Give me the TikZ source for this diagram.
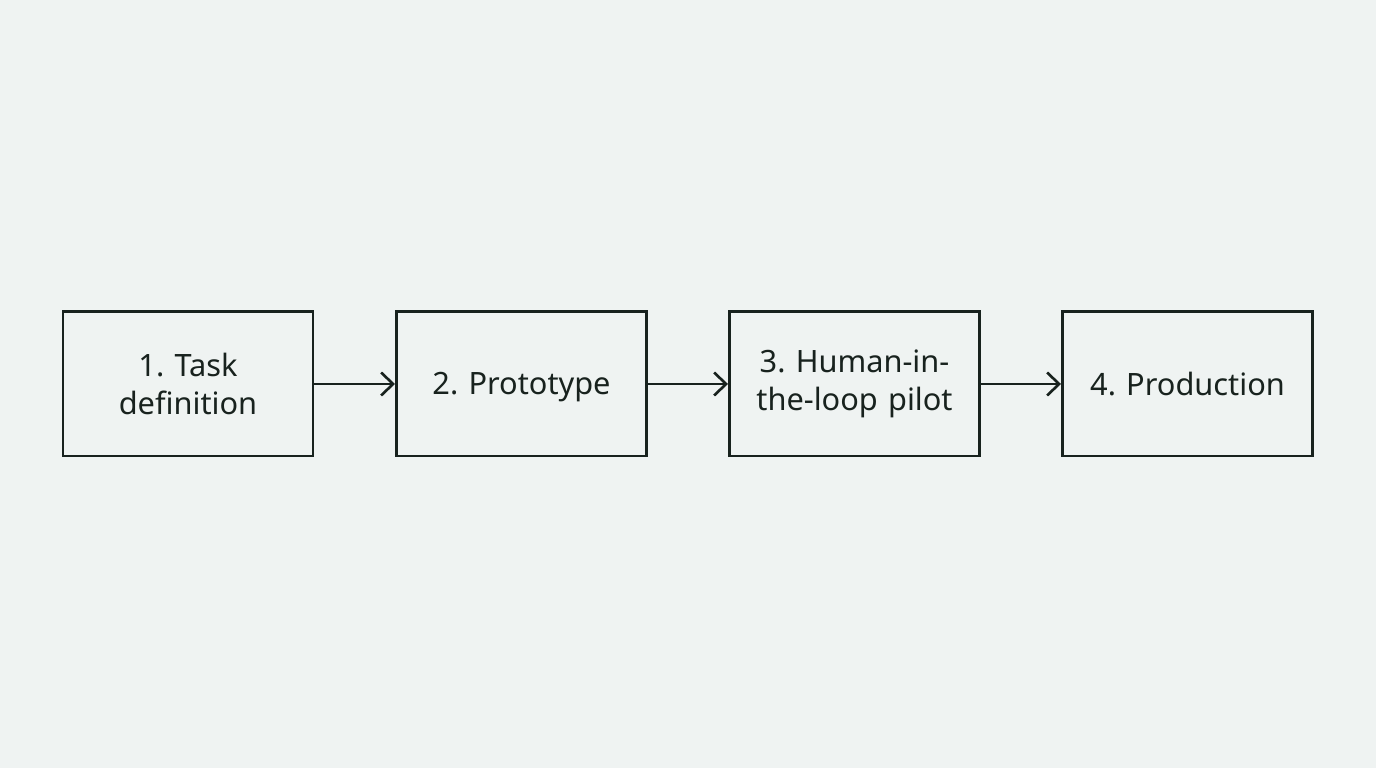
\documentclass[tikz,border=0pt]{standalone}
\usepackage{fontspec}
\setmainfont{Noto Sans}
\usetikzlibrary{arrows.meta}
\definecolor{bgcol}{HTML}{EFF3F2}
\definecolor{inkcol}{HTML}{18221E}
\tikzset{
  StepBox/.style={draw=inkcol,line width=1.7pt,minimum width=5cm,minimum height=2.88cm,
    text width=4.6cm,align=center,font=\fontsize{17.5}{21.5}\selectfont\frenchspacing,text=inkcol,inner sep=0pt},
  StepArrow/.style={draw=inkcol,line width=1.5pt,-{Straight Barb[length=2.4mm,width=4.6mm]}}
}
\begin{document}
\begin{tikzpicture}
            \fill[bgcol] (0,0) rectangle (27.52,15.36);
            \useasboundingbox (0,0) rectangle (27.52,15.36);

            \node[StepBox] (task) at (3.76,7.68){1. Task\\definition};
            \node[StepBox] (proto) at (10.43,7.68){\smash{\raisebox{-0.22cm}{2. Prototype}}};
            \node[StepBox] (pilot) at (17.09,7.68){3. Human-in-\\the-loop pilot};
            \node[StepBox] (prod) at (23.75,7.68){4. Production};

            \draw[StepArrow] (task) -- (proto);
            \draw[StepArrow] (proto) -- (pilot);
            \draw[StepArrow] (pilot) -- (prod);
\end{tikzpicture}
\end{document}
